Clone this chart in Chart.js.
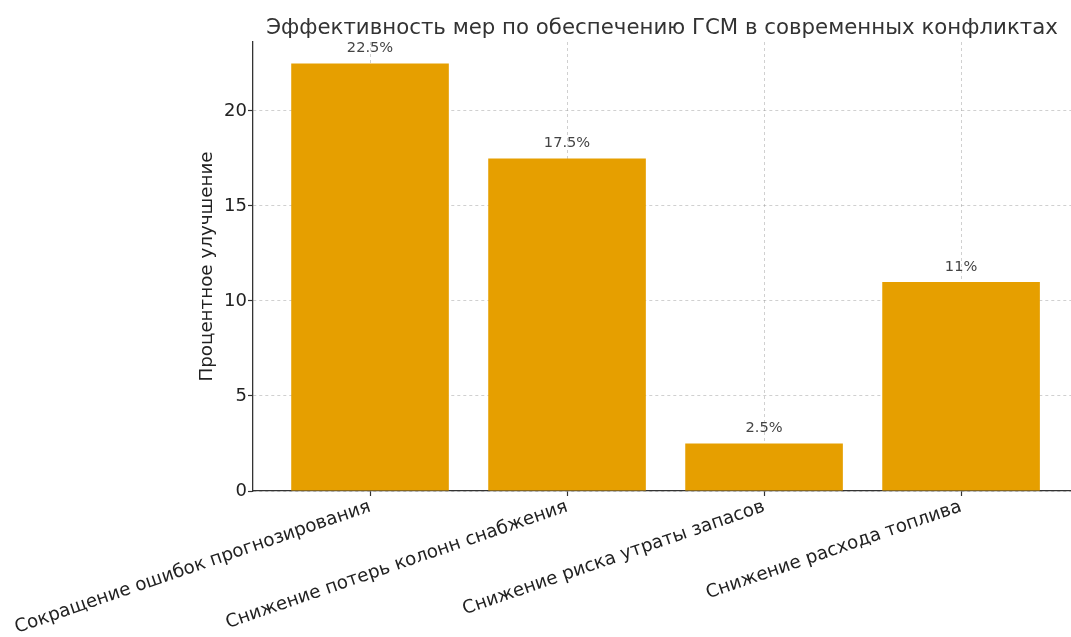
<!DOCTYPE html>
<html lang="ru">
<head>
    <meta charset="UTF-8">
    <title>Эффективность мер по обеспечению ГСМ</title>
    <script src="https://cdn.jsdelivr.net/npm/chart.js"></script>
    <style>
        html, body {
            margin: 0;
            padding: 0;
            background: #fff;
            overflow: hidden;
        }
        canvas {
            display: block;
        }
    </style>
</head>
<body>
    <canvas id="chart" width="1071" height="637"></canvas>

    <script>
        // данные
        const categories = [
            'Сокращение ошибок прогнозирования',
            'Снижение потерь колонн снабжения',
            'Снижение риска утраты запасов',
            'Снижение расхода топлива'
        ];
        const improvement = [22.5, 17.5, 2.5, 11];
        const yTicks = [0, 5, 10, 15, 20];

        const chartTitle = 'Эффективность мер по обеспечению ГСМ в современных конфликтах';
        const yTitle = 'Процентное улучшение';

        const FONT = "'DejaVu Sans', sans-serif";
        const gridColor = 'rgba(150, 150, 150, 0.45)';
        const axisColor = '#333';

        // заголовок по центру области графика
        const titlePlugin = {
            id: 'centerTitle',
            afterDraw(chart) {
                const { ctx, chartArea } = chart;
                ctx.save();
                ctx.font = '21.3px ' + FONT;
                ctx.fillStyle = '#333';
                ctx.textAlign = 'center';
                ctx.textBaseline = 'alphabetic';
                ctx.fillText(chartTitle, (chartArea.left + chartArea.right) / 2, 34);
                ctx.restore();
            }
        };

        // подписи значений над столбцами
        const valueLabels = {
            id: 'valueLabels',
            afterDatasetsDraw(chart) {
                const { ctx } = chart;
                const meta = chart.getDatasetMeta(0);
                ctx.save();
                ctx.font = '14.6px ' + FONT;
                ctx.fillStyle = '#444';
                ctx.textAlign = 'center';
                ctx.textBaseline = 'alphabetic';
                meta.data.forEach((bar, i) => {
                    ctx.fillText(improvement[i] + '%', bar.x, bar.y - 11);
                });
                ctx.restore();
            }
        };

        const ctx = document.getElementById('chart').getContext('2d');
        new Chart(ctx, {
            type: 'bar',
            data: {
                datasets: [{
                    data: improvement.map((v, i) => ({ x: i, y: v })),
                    backgroundColor: '#E69F00',
                    borderWidth: 0,
                    barPercentage: 0.8,
                    categoryPercentage: 1.0
                }]
            },
            options: {
                responsive: false,
                animation: false,
                layout: {
                    padding: { top: 42, left: 195, right: 0, bottom: 0 }
                },
                plugins: {
                    legend: { display: false },
                    tooltip: { enabled: false }
                },
                scales: {
                    x: {
                        type: 'linear',
                        min: -0.594,
                        max: 3.558,
                        offset: false,
                        z: 1,
                        afterBuildTicks: (scale) => {
                            scale.ticks = categories.map((_, i) => ({ value: i }));
                        },
                        afterFit: (scale) => {
                            scale.height = 146;
                            // подписи помещаются сами, лишний отступ не нужен
                            scale.paddingLeft = 0;
                            scale.paddingRight = 0;
                        },
                        ticks: {
                            autoSkip: false,
                            minRotation: 19,
                            maxRotation: 19,
                            padding: 0,
                            color: '#222',
                            font: { family: FONT, size: 18.3 },
                            callback: (value) => categories[value]
                        },
                        grid: {
                            offset: false,
                            color: gridColor,
                            lineWidth: 1,
                            drawTicks: true,
                            tickLength: 5,
                            tickColor: axisColor,
                            tickBorderDash: [],
                            tickWidth: 1.2
                        },
                        border: {
                            display: true,
                            color: axisColor,
                            width: 1.3,
                            dash: [3, 3]
                        }
                    },
                    y: {
                        min: 0,
                        max: 23.625,
                        z: 1,
                        afterBuildTicks: (scale) => {
                            scale.ticks = yTicks.map(v => ({ value: v }));
                        },
                        afterFit: (scale) => {
                            scale.width = 58;
                        },
                        ticks: {
                            padding: 1,
                            color: '#222',
                            font: { family: FONT, size: 18 }
                        },
                        grid: {
                            color: gridColor,
                            lineWidth: 1,
                            tickLength: 5,
                            tickColor: axisColor,
                            tickBorderDash: [],
                            tickWidth: 1.2
                        },
                        border: {
                            display: true,
                            color: axisColor,
                            width: 1.3,
                            dash: [3, 3]
                        },
                        title: {
                            display: true,
                            text: yTitle,
                            color: '#222',
                            font: { family: FONT, size: 18.3 },
                            padding: { top: 1, bottom: 0 }
                        }
                    }
                }
            },
            plugins: [titlePlugin, valueLabels]
        });
    </script>
</body>
</html>
